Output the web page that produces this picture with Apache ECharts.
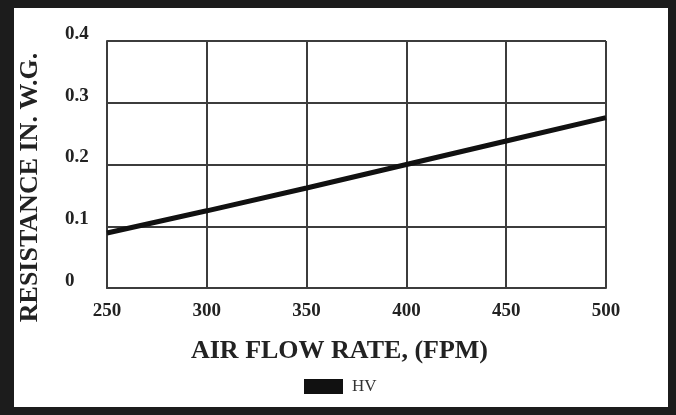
<!DOCTYPE html>
<html>
<head>
<meta charset="utf-8">
<script src="https://cdn.jsdelivr.net/npm/echarts@6/dist/echarts.min.js"></script>
<style>
html,body{margin:0;padding:0;background:#fff;}
#chart{width:676px;height:415px;}
</style>
</head>
<body>
<div id="chart"></div>
<script>
var airFlow = [250, 300, 350, 400, 450, 500];
var resistance = [0.089, 0.125, 0.162, 0.200, 0.238, 0.276];
var seriesName = 'HV';
var xTitle = 'AIR FLOW RATE, (FPM)';
var yTitle = 'RESISTANCE IN. W.G.';

var serif = "'Liberation Serif', 'Times New Roman', serif";
var gridColor = '#3c3c3c';
var frameColor = '#1c1c1c';

var chart = echarts.init(document.getElementById('chart'), null, {renderer: 'canvas'});
chart.setOption({
  backgroundColor: '#fff',
  animation: false,
  grid: {left: 107, top: 41, right: 70, bottom: 127},
  legend: {
    left: 299, top: 373,
    itemWidth: 39, itemHeight: 15,
    icon: 'rect',
    data: [seriesName],
    textStyle: {fontFamily: serif, fontSize: 17, color: '#333', padding: [0, 0, 0, 4]}
  },
  xAxis: {
    type: 'value', min: 250, max: 500, interval: 50,
    name: xTitle, nameLocation: 'middle', nameGap: 50,
    nameTextStyle: {fontFamily: serif, fontWeight: 'bold', fontSize: 26, color: '#222', padding: [0, 34, 0, 0]},
    axisLine: {show: true, lineStyle: {color: gridColor, width: 2}},
    axisTick: {show: false},
    axisLabel: {fontFamily: serif, fontWeight: 'bold', fontSize: 19, color: '#222', margin: 14},
    splitLine: {show: true, lineStyle: {color: gridColor, width: 2}}
  },
  yAxis: {
    type: 'value', min: 0, max: 0.4, interval: 0.1,
    name: yTitle, nameLocation: 'middle', nameGap: 64,
    nameTextStyle: {fontFamily: serif, fontWeight: 'bold', fontSize: 26, color: '#222', padding: [0, 46, 0, 0]},
    axisLine: {show: true, lineStyle: {color: gridColor, width: 2}},
    axisTick: {show: false},
    axisLabel: {fontFamily: serif, fontWeight: 'bold', fontSize: 19, color: '#222', align: 'left', margin: 42,
      verticalAlign: 'bottom', lineHeight: 14,
      formatter: function (v) { return v === 0 ? '0' : v.toFixed(1); }},
    splitLine: {show: true, lineStyle: {color: gridColor, width: 2}}
  },
  series: [{
    name: seriesName,
    type: 'line',
    data: airFlow.map(function (x, i) { return [x, resistance[i]]; }),
    showSymbol: false,
    symbol: 'none',
    lineStyle: {color: '#111', width: 5},
    itemStyle: {color: '#111'}
  }],
  graphic: [
    {type: 'rect', shape: {x: 0, y: 0, width: 14, height: 415}, style: {fill: frameColor}, silent: true},
    {type: 'rect', shape: {x: 0, y: 0, width: 676, height: 8}, style: {fill: frameColor}, silent: true},
    {type: 'rect', shape: {x: 668, y: 0, width: 8, height: 415}, style: {fill: frameColor}, silent: true},
    {type: 'rect', shape: {x: 0, y: 407, width: 676, height: 8}, style: {fill: frameColor}, silent: true}
  ]
});
</script>
</body>
</html>
